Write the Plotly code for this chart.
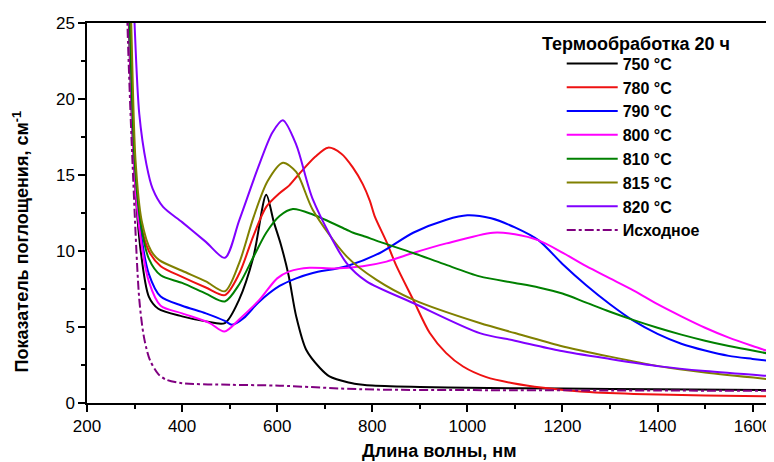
import plotly.graph_objects as go

# Absorption spectra (nm, cm^-1)
x_750 = [280, 288, 300, 313, 330, 350, 400, 450, 490, 520, 550, 577, 593, 608, 624, 640, 661, 690, 710, 750, 780, 800, 900, 1000, 1200, 1400, 1645]
y_750 = [40, 25, 15, 10, 7, 6.2, 5.7, 5.37, 5.26, 6.8, 9.6, 13.7, 11.9, 10.4, 8.4, 5.7, 3.5, 2.3, 1.75, 1.35, 1.2, 1.15, 1.05, 1.0, 0.95, 0.9, 0.85]

x_780 = [280, 290, 300, 312, 330, 355, 400, 450, 490, 520, 550, 577, 605, 625, 647, 680, 707, 735, 759, 780, 795, 805, 830, 851, 886, 921, 955, 991, 1040, 1096, 1160, 1237, 1350, 1500, 1645]
y_780 = [40, 25, 16, 12, 10, 9.0, 8.3, 7.6, 7.1, 8.5, 11.0, 12.9, 13.8, 14.3, 15.1, 16.2, 16.8, 16.4, 15.5, 14.4, 13.3, 12.3, 10.6, 9.0, 6.8, 4.6, 3.3, 2.4, 1.7, 1.3, 1.0, 0.76, 0.6, 0.5, 0.43]

x_790 = [280, 291, 300, 312, 330, 355, 400, 450, 490, 505, 530, 560, 605, 640, 675, 746, 816, 886, 956, 1000, 1050, 1100, 1150, 1200, 1250, 1300, 1350, 1400, 1450, 1500, 1550, 1600, 1645]
y_790 = [40, 25, 16, 11.5, 8.5, 7.0, 6.4, 5.9, 5.4, 5.15, 5.6, 6.6, 7.7, 8.2, 8.55, 9.0, 9.87, 11.2, 12.06, 12.35, 12.15, 11.55, 10.7, 9.15, 7.75, 6.5, 5.4, 4.55, 3.9, 3.45, 3.1, 2.9, 2.74]

x_800 = [280, 289, 298, 310, 330, 355, 400, 458, 489, 520, 563, 600, 626, 668, 720, 780, 830, 886, 956, 1054, 1100, 1150, 1200, 1250, 1300, 1350, 1400, 1450, 1500, 1550, 1600, 1645]
y_800 = [40, 25, 16, 11.5, 8, 6.4, 5.9, 5.26, 4.7, 5.5, 6.8, 8.2, 8.66, 8.9, 8.85, 9.0, 9.3, 9.87, 10.5, 11.2, 11.1, 10.7, 9.9, 9.0, 8.2, 7.4, 6.5, 5.7, 4.95, 4.3, 3.75, 3.29]

x_810 = [280, 290, 300, 312, 330, 355, 400, 450, 490, 520, 550, 577, 605, 633, 675, 746, 760, 780, 816, 886, 950, 1026, 1100, 1150, 1200, 1250, 1300, 1350, 1400, 1450, 1500, 1550, 1600, 1645]
y_810 = [40, 25, 16, 12, 9.5, 8.4, 7.9, 7.2, 6.68, 7.8, 9.6, 11.2, 12.3, 12.76, 12.4, 11.4, 11.2, 11.0, 10.6, 9.87, 9.15, 8.33, 7.9, 7.6, 7.2, 6.6, 6.0, 5.45, 4.95, 4.5, 4.1, 3.75, 3.45, 3.18]

x_815 = [280, 293, 302, 315, 335, 352, 400, 450, 490, 520, 550, 580, 612, 640, 675, 746, 809, 886, 1026, 1100, 1195, 1300, 1405, 1500, 1645]
y_815 = [40, 25, 16, 12, 10, 9.4, 8.7, 8.0, 7.35, 9.2, 12.2, 14.6, 15.8, 15.2, 12.7, 9.65, 8.1, 6.8, 5.26, 4.6, 3.77, 3.05, 2.41, 2.0, 1.53]

x_820 = [285, 300, 310, 325, 338, 360, 400, 450, 490, 520, 560, 590, 612, 640, 675, 746, 788, 886, 1026, 1100, 1195, 1300, 1405, 1500, 1645]
y_820 = [40, 25, 19, 15.7, 14.1, 12.9, 11.9, 10.6, 9.55, 12.0, 15.5, 17.8, 18.6, 17.0, 13.4, 9.2, 8.0, 6.58, 4.6, 4.1, 3.44, 2.9, 2.41, 2.1, 1.75]

x_init = [275, 285, 296, 310, 320, 332, 350, 367, 400, 500, 605, 780, 1000, 1400, 1645]
y_init = [40, 25, 15.6, 6.8, 4.3, 2.85, 1.9, 1.53, 1.3, 1.2, 1.14, 0.9, 0.85, 0.82, 0.8]

series = [
    ("750 °C", x_750, y_750, "#000000", "solid"),
    ("780 °C", x_780, y_780, "#EE1111", "solid"),
    ("790 °C", x_790, y_790, "#0000FF", "solid"),
    ("800 °C", x_800, y_800, "#FF00FF", "solid"),
    ("810 °C", x_810, y_810, "#008000", "solid"),
    ("815 °C", x_815, y_815, "#808000", "solid"),
    ("820 °C", x_820, y_820, "#8000FF", "solid"),
    ("Исходное", x_init, y_init, "#800080", "dashdot"),
]

FONT = "Arial, Liberation Sans, sans-serif"

fig = go.Figure()
for name, xs, ys, color, dash in series:
    fig.add_trace(go.Scatter(
        x=xs, y=ys, mode="lines", name=name,
        line=dict(color=color, width=2, dash=dash, shape="spline", smoothing=0.8),
    ))

axis_common = dict(
    showline=True, linecolor="black", linewidth=1.5,
    ticks="outside", ticklen=7, tickwidth=1.5, tickcolor="black",
    showgrid=False, zeroline=False,
    tickfont=dict(family=FONT, size=17, color="black"),
)

fig.update_xaxes(
    range=[200, 1645], dtick=200, tick0=200, mirror=True,
    minor=dict(dtick=100, ticks="outside", ticklen=4, tickcolor="black", tickwidth=1.5),
    **axis_common,
)
fig.update_yaxes(
    range=[0, 25], dtick=5, tick0=0,
    minor=dict(dtick=2.5, ticks="outside", ticklen=4, tickcolor="black", tickwidth=1.5),
    **axis_common,
)

# page body keeps its default 8px margin, so the figure is 8px smaller
fig.update_layout(
    width=766, height=454,
    margin=dict(l=79, r=0, t=15, b=59),
    plot_bgcolor="white", paper_bgcolor="white",
    font=dict(family=FONT, color="black"),
    showlegend=True,
    legend=dict(
        x=0.691, y=0.938, xanchor="left", yanchor="top",
        font=dict(family=FONT, size=16, color="black", weight="bold"),
        bgcolor="rgba(0,0,0,0)", itemwidth=51, tracegroupgap=0,
    ),
    annotations=[
        dict(text="<b>Термообработка 20 ч</b>", xref="paper", yref="paper",
             x=0.659, y=0.945, xanchor="left", yanchor="middle", showarrow=False,
             font=dict(family=FONT, size=18, color="black")),
        dict(text="<b>Длина волны, нм</b>", xref="paper", yref="paper",
             x=0.513, y=-0.126, xanchor="center", yanchor="middle", showarrow=False,
             font=dict(family=FONT, size=18, color="black")),
        dict(text="<b>Показатель поглощения, см<sup>-1</sup></b>", xref="paper", yref="paper",
             x=-0.096, y=0.425, xanchor="center", yanchor="middle", showarrow=False,
             textangle=-90, font=dict(family=FONT, size=18, color="black")),
    ],
)

fig.write_html("out.html")
